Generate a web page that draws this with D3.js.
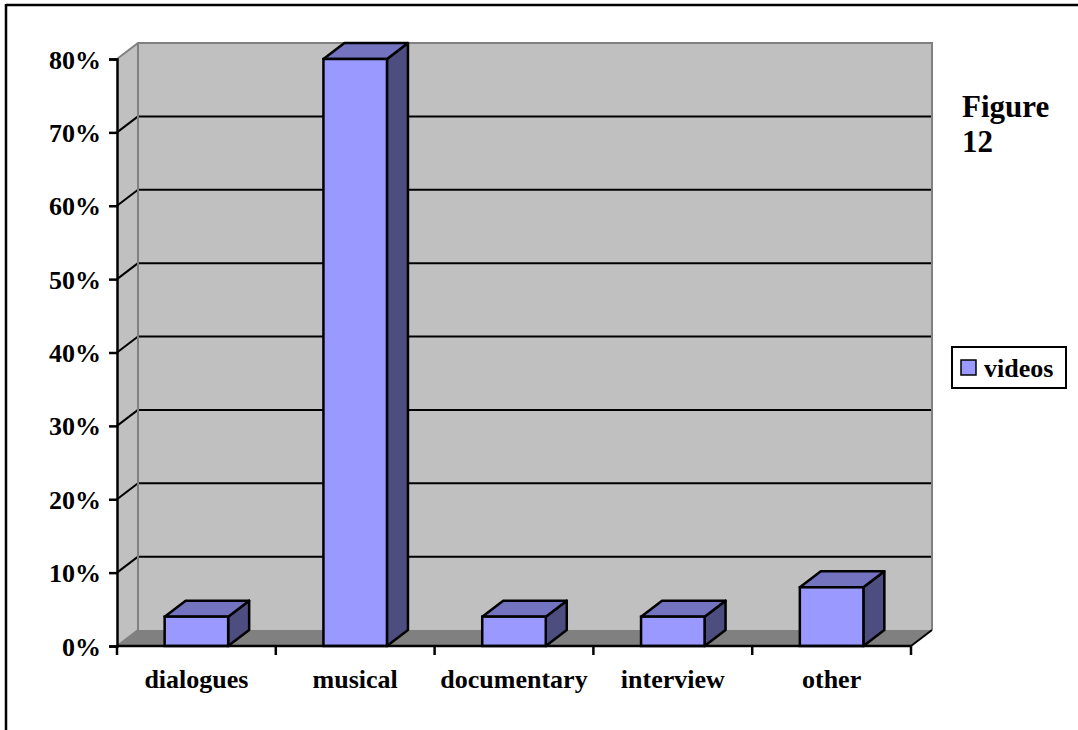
<!DOCTYPE html>
<html>
<head>
<meta charset="utf-8">
<script src="https://cdn.jsdelivr.net/npm/d3@7"></script>
<style>
  html, body { margin: 0; padding: 0; background: #fff; }
  svg text { font-family: "Liberation Serif", "Times New Roman", serif; font-weight: bold; fill: #000; }
</style>
</head>
<body>
<svg id="chart" width="1078" height="730"></svg>
<script>
// Share of videos by type
const categories = ["dialogues", "musical", "documentary", "interview", "other"];
const videos = [0.04, 0.80, 0.04, 0.04, 0.08];
const yTicks = [0, 0.1, 0.2, 0.3, 0.4, 0.5, 0.6, 0.7, 0.8];
const seriesName = "videos";
const figureLabel = ["Figure", "12"];

const svg = d3.select("#chart");

// frame
svg.append("line").attr("x1", 6).attr("x2", 1078).attr("y1", 5).attr("y2", 5)
  .attr("stroke", "#000").attr("stroke-width", 2.5);
svg.append("line").attr("x1", 6).attr("x2", 6).attr("y1", 4).attr("y2", 730)
  .attr("stroke", "#000").attr("stroke-width", 2.5);

// plot geometry (front plane + depth offset of the 3D box)
const plotLeft = 117, plotRight = 911, plotBottom = 646, plotTop = 59;
const dx = 21, dy = 16;

const x = d3.scaleBand().domain(categories).range([plotLeft, plotRight]).paddingInner(0).paddingOuter(0);
const y = d3.scaleLinear().domain([0, 0.8]).range([plotBottom, plotTop]);
const barW = x.bandwidth() * 0.4;

const g = svg.append("g");

// back wall
g.append("rect")
  .attr("x", plotLeft + dx).attr("y", y(0.8) - dy)
  .attr("width", plotRight - plotLeft).attr("height", y(0) - y(0.8))
  .attr("fill", "#c0c0c0");
// side wall
g.append("polygon")
  .attr("points", [[plotLeft, y(0.8)], [plotLeft + dx, y(0.8) - dy], [plotLeft + dx, y(0) - dy], [plotLeft, y(0)]].join(" "))
  .attr("fill", "#c0c0c0");
// floor
g.append("polygon")
  .attr("points", [[plotLeft, y(0)], [plotRight, y(0)], [plotRight + dx, y(0) - dy], [plotLeft + dx, y(0) - dy]].join(" "))
  .attr("fill", "#808080");

// gridlines on back and side walls
const inner = yTicks.filter(v => v > 0 && v < 0.8);
g.selectAll("line.grid-back").data(inner).join("line")
  .attr("class", "grid-back")
  .attr("x1", plotLeft + dx).attr("x2", plotRight + dx)
  .attr("y1", d => y(d) - dy).attr("y2", d => y(d) - dy)
  .attr("stroke", "#000").attr("stroke-width", 2);
g.selectAll("line.grid-side").data(inner).join("line")
  .attr("class", "grid-side")
  .attr("x1", plotLeft).attr("x2", plotLeft + dx)
  .attr("y1", d => y(d)).attr("y2", d => y(d) - dy)
  .attr("stroke", "#000").attr("stroke-width", 2);

// wall edges
g.append("path")
  .attr("d", `M${plotLeft},${y(0.8)} L${plotLeft + dx},${y(0.8) - dy} L${plotRight + dx},${y(0.8) - dy} L${plotRight + dx},${y(0) - dy}`)
  .attr("fill", "none").attr("stroke", "#808080").attr("stroke-width", 2);
g.append("line")
  .attr("x1", plotLeft + dx).attr("x2", plotLeft + dx).attr("y1", y(0.8) - dy).attr("y2", y(0) - dy)
  .attr("stroke", "#808080").attr("stroke-width", 2);
g.append("line")
  .attr("x1", plotLeft).attr("x2", plotLeft + dx).attr("y1", y(0)).attr("y2", y(0) - dy)
  .attr("stroke", "#808080").attr("stroke-width", 2);

// 3D columns
const data = categories.map((c, i) => ({ c, v: videos[i] }));
const bars = g.selectAll("g.bar").data(data).join("g").attr("class", "bar");
const bx = d => x(d.c) + (x.bandwidth() - barW) / 2;
bars.append("polygon") // side
  .attr("points", d => [[bx(d) + barW, y(d.v)], [bx(d) + barW + dx, y(d.v) - dy], [bx(d) + barW + dx, y(0) - dy], [bx(d) + barW, y(0)]].join(" "))
  .attr("fill", "#4d4d80").attr("stroke", "#000").attr("stroke-width", 2.5).attr("stroke-linejoin", "round");
bars.append("polygon") // top
  .attr("points", d => [[bx(d), y(d.v)], [bx(d) + dx, y(d.v) - dy], [bx(d) + barW + dx, y(d.v) - dy], [bx(d) + barW, y(d.v)]].join(" "))
  .attr("fill", "#7373bf").attr("stroke", "#000").attr("stroke-width", 2.5).attr("stroke-linejoin", "round");
bars.append("rect") // front
  .attr("x", bx).attr("y", d => y(d.v))
  .attr("width", barW).attr("height", d => y(0) - y(d.v))
  .attr("fill", "#9999ff").attr("stroke", "#000").attr("stroke-width", 2.5);

// value axis
const yAxis = d3.axisLeft(y).tickValues(yTicks).tickFormat(d3.format(".0%")).tickSize(8).tickPadding(6);
const ya = svg.append("g").attr("transform", `translate(${plotLeft},0)`).call(yAxis);
ya.attr("font-family", null);
ya.select(".domain").attr("stroke", "#000").attr("stroke-width", 2.5);
ya.selectAll(".tick line").attr("stroke", "#000").attr("stroke-width", 2.5);
ya.selectAll(".tick text")
  .attr("font-size", 26).attr("dy", "0.35em").attr("x", -16);

// category axis
const xa = svg.append("g");
xa.append("line").attr("x1", plotLeft).attr("x2", plotRight).attr("y1", plotBottom).attr("y2", plotBottom)
  .attr("stroke", "#000").attr("stroke-width", 2.5);
xa.append("line").attr("x1", plotRight).attr("x2", plotRight + dx).attr("y1", plotBottom).attr("y2", plotBottom - dy)
  .attr("stroke", "#000").attr("stroke-width", 2);
const bounds = categories.map(c => x(c)).concat([plotRight]);
xa.selectAll("line.xt").data(bounds).join("line").attr("class", "xt")
  .attr("x1", d => d).attr("x2", d => d).attr("y1", plotBottom).attr("y2", plotBottom + 9)
  .attr("stroke", "#000").attr("stroke-width", 2.5);
xa.selectAll("text.xl").data(categories).join("text").attr("class", "xl")
  .attr("x", d => x(d) + x.bandwidth() / 2).attr("y", 688)
  .attr("text-anchor", "middle").attr("font-size", 26)
  .text(d => d);

// figure label
svg.append("text").attr("x", 962).attr("y", 117).attr("font-size", 31)
  .selectAll("tspan").data(figureLabel).join("tspan")
  .attr("x", 962).attr("dy", (d, i) => i === 0 ? 0 : 35).text(d => d);

// legend
const lg = svg.append("g");
lg.append("rect").attr("x", 952).attr("y", 347).attr("width", 114).attr("height", 41)
  .attr("fill", "#fff").attr("stroke", "#000").attr("stroke-width", 2);
lg.append("rect").attr("x", 961).attr("y", 360).attr("width", 15).attr("height", 15)
  .attr("fill", "#9999ff").attr("stroke", "#000").attr("stroke-width", 1.5);
lg.append("text").attr("x", 984).attr("y", 377).attr("font-size", 26).text(seriesName);
</script>
</body>
</html>
